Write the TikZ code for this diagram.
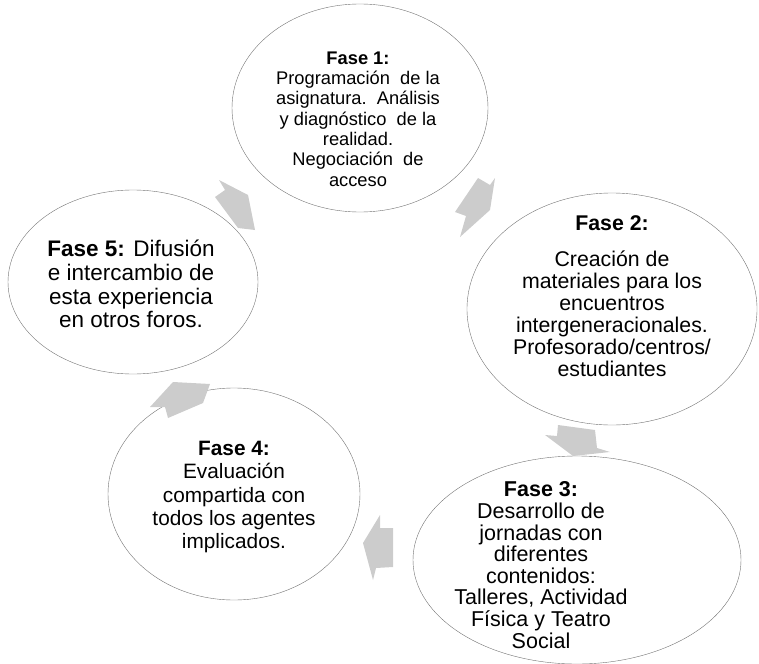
\documentclass[tikz,border=0pt]{standalone}
\usepackage{fontspec}
\setmainfont{Liberation Sans}
\usetikzlibrary{shapes.geometric}

\tikzset{
  phase/.style={draw=black!55, thin, ellipse, inner sep=0pt},
  phasetext/.style={align=center, text=black, inner sep=0pt},
  cyclearrow/.style={fill=black!20, draw=none},
}

\begin{document}
\begin{tikzpicture}[x=1pt, y=-1pt]
  \useasboundingbox (0,0) rectangle (759,663);
  % phases (ellipses)
  \node[phase, minimum width=256pt, minimum height=208pt] (f1) at (360,108) {};
  \node[phase, minimum width=290pt, minimum height=232pt] (f2) at (612,309) {};
  \node[phase, minimum width=328pt, minimum height=208pt] (f3) at (577,560) {};
  \node[phase, minimum width=252pt, minimum height=212pt] (f4) at (234,494) {};
  \node[phase, minimum width=250pt, minimum height=184pt] (f5) at (133,282) {};
  % texts
  \node[phasetext, font=\fontsize{18.3}{20.3}\selectfont] (t1) at (358,119)
    {\textbf{Fase 1:}\\Programación\ \ de la\\asignatura.\ \ Análisis\\y diagnóstico\ \ de la\\realidad.\\Negociación\ \ de\\acceso};
  \node[phasetext, font=\fontsize{21.3}{22}\selectfont] (t2) at (612,296)
    {\textbf{Fase 2:}\\[14pt]Creación de\\materiales para los\\encuentros\\intergeneracionales.\\Profesorado/centros/\\estudiantes};
  \node[phasetext, font=\fontsize{21.5}{21.6}\selectfont] (t3) at (541,565)
    {\textbf{Fase 3:}\\Desarrollo de\\jornadas con\\diferentes\\contenidos:\\Talleres, Actividad\\Física y Teatro\\Social};
  \node[phasetext, font=\fontsize{20.8}{23.3}\selectfont] (t4) at (234,497)
    {\textbf{Fase 4:}\\Evaluación\\compartida con\\todos los agentes\\implicados.};
  \node[phasetext, font=\fontsize{22.5}{23.8}\selectfont] (t5) at (131,284)
    {\textbf{Fase 5:} Difusión\\e intercambio de\\esta experiencia\\en otros foros.};
  % arrows between phases
  \fill[cyclearrow] (478,178) -- (490,185) -- (495,178) -- (490,210) -- (460,237) -- (466,216) -- (455,212) -- cycle;
  \fill[cyclearrow] (558,425) -- (595,430) -- (597,448) -- (610,452) -- (573,456) -- (545,435) -- (557,436) -- cycle;
  \fill[cyclearrow] (363,543) -- (380,515) -- (380,528) -- (393,528) -- (393,567) -- (376,568) -- (373,580) -- cycle;
  \fill[cyclearrow] (173,382) -- (210,384) -- (203,403) -- (168,418) -- (165,407) -- (150,407) -- cycle;
  \fill[cyclearrow] (219,180) -- (248,195) -- (255,230) -- (238,228) -- (215,197) -- (225,190) -- cycle;
\end{tikzpicture}
\end{document}
